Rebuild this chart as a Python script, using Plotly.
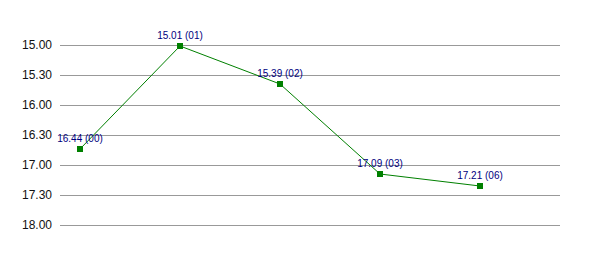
import plotly.graph_objects as go

codes = ["00", "01", "02", "03", "06"]
times = ["16.44", "15.01", "15.39", "17.09", "17.21"]
tick_labels = ["15.00", "15.30", "16.00", "16.30", "17.00", "17.30", "18.00"]


def to_minutes(s):
    m, sec = s.split(".")
    return int(m) + int(sec) / 60.0


yvals = [to_minutes(t) for t in times]
tickvals = [to_minutes(t) for t in tick_labels]
xs = list(range(len(codes)))
texts = [f"{t} ({c})" for t, c in zip(times, codes)]

pad = 3 / 60.0

fig = go.Figure()
fig.add_trace(go.Scatter(
    x=xs, y=yvals, mode="lines+markers+text",
    line=dict(color="#008000", width=1),
    marker=dict(symbol="square", size=6, color="#008000"),
    text=texts, textposition="top center",
    textfont=dict(family="Liberation Sans, Arial", size=10, color="#000080"),
    cliponaxis=False, hoverinfo="skip",
))

fig.update_layout(
    width=600, height=255,
    margin=dict(l=60, r=40, t=42, b=27),
    plot_bgcolor="white", paper_bgcolor="white",
    showlegend=False,
    xaxis=dict(range=[-0.2, 4.8], showgrid=False, zeroline=False,
               showticklabels=False, showline=False),
    yaxis=dict(range=[18.0 + pad, 15.0 - pad], tickvals=tickvals, ticktext=tick_labels,
               showgrid=True, gridcolor="#999999", gridwidth=1,
               zeroline=False, showline=False, ticks="",
               tickfont=dict(family="Liberation Sans Narrow, Liberation Sans, Arial",
                             size=12, color="#111111"),
               ticklabelstandoff=7),
)

fig.write_html("out.html")
